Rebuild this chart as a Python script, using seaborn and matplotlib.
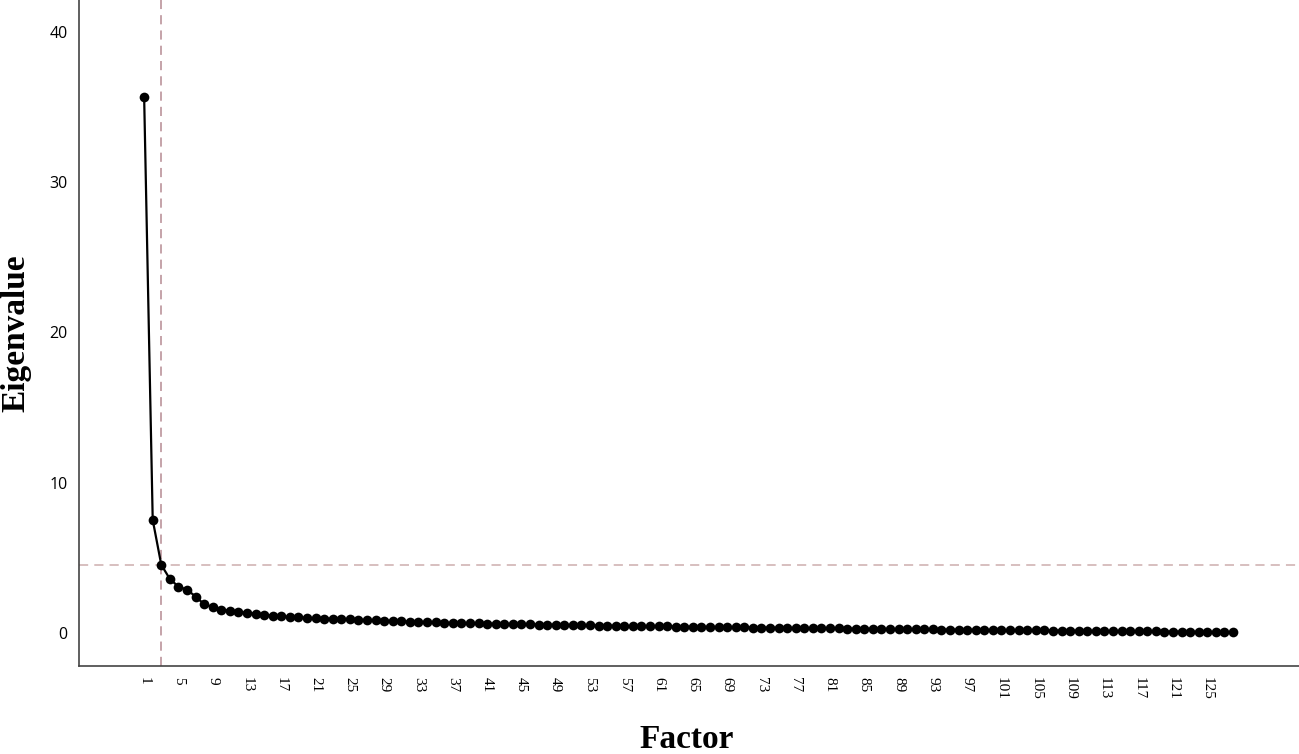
import numpy as np
import pandas as pd
import matplotlib
matplotlib.use("Agg")
import matplotlib.pyplot as plt
import seaborn as sns

# === DATA: eigenvalues ===
eigenvalues = [
    35.67, 7.52, 4.53, 3.59, 3.08, 2.88, 2.42, 1.91, 1.73, 1.55,
    1.48, 1.40, 1.35, 1.28, 1.22, 1.15, 1.11, 1.06, 1.04, 1.00,
    0.98, 0.96, 0.94, 0.92, 0.90, 0.88, 0.86, 0.84, 0.82, 0.80,
    0.78, 0.76, 0.74, 0.72, 0.70, 0.68, 0.66, 0.65, 0.64, 0.63,
    0.62, 0.61, 0.60, 0.59, 0.58, 0.57, 0.56, 0.55, 0.54, 0.53,
    0.52, 0.51, 0.50, 0.49, 0.48, 0.47, 0.46, 0.455, 0.45, 0.44,
    0.435, 0.43, 0.42, 0.415, 0.41, 0.40, 0.395, 0.39, 0.38, 0.375,
    0.37, 0.36, 0.355, 0.35, 0.34, 0.335, 0.33, 0.32, 0.315, 0.31,
    0.30, 0.295, 0.29, 0.28, 0.275, 0.27, 0.26, 0.255, 0.25, 0.245,
    0.24, 0.235, 0.23, 0.225, 0.22, 0.215, 0.21, 0.205, 0.20, 0.195,
    0.19, 0.185, 0.18, 0.175, 0.17, 0.165, 0.16, 0.155, 0.15, 0.145,
    0.14, 0.135, 0.13, 0.125, 0.12, 0.115, 0.11, 0.105, 0.10, 0.095,
    0.09, 0.085, 0.08, 0.075, 0.07, 0.065, 0.06, 0.05,
]
factors = list(range(1, len(eigenvalues) + 1))
x_ticks = list(range(1, 126, 4))
y_ticks = [0, 10, 20, 30, 40]
cutoff_factor = 3
cutoff_eigen = eigenvalues[cutoff_factor - 1]

df = pd.DataFrame({"factor": factors, "eigenvalue": eigenvalues})

# === PLOT ===
sns.set_style("white")
fig = plt.figure(figsize=(12.99, 7.54), dpi=100)
ax = fig.add_axes([0.0608, 0.1167, 0.9392, 0.8833])

ax.axhline(cutoff_eigen, color="#cdaeae", lw=1.1, ls=(0, (6, 4)), zorder=1)
ax.axvline(cutoff_factor, color="#b58a92", lw=1.1, ls=(0, (6, 4)), zorder=1)

sns.lineplot(data=df, x="factor", y="eigenvalue", ax=ax, color="black",
             lw=1.6, marker="o", markersize=7, markeredgewidth=0,
             markerfacecolor="black", zorder=3)

ax.set_xlim(-6.6, 135.7)
ax.set_ylim(-2.2, 42.1)
ax.set_xticks(x_ticks)
ax.set_xticklabels([str(t) for t in x_ticks], rotation=270,
                   family="Liberation Serif", fontsize=11, color="black")
ax.set_yticks(y_ticks)
ax.set_yticklabels([str(t) for t in y_ticks], family="Open Sans",
                   fontsize=11.5, color="black")
ax.tick_params(axis="both", length=0, pad=8)

for side in ["top", "right"]:
    ax.spines[side].set_visible(False)
for side in ["left", "bottom"]:
    ax.spines[side].set_color("#444444")
    ax.spines[side].set_linewidth(1.2)

ax.set_xlabel("Factor", family="Liberation Serif", fontweight="bold",
              fontsize=24, color="black")
ax.set_ylabel("Eigenvalue", family="Liberation Serif", fontweight="bold",
              fontsize=24, color="black")
ax.xaxis.set_label_coords(0.498, -0.087)
ax.yaxis.set_label_coords(-0.039, 0.5)

fig.savefig("out.png", dpi=100)
